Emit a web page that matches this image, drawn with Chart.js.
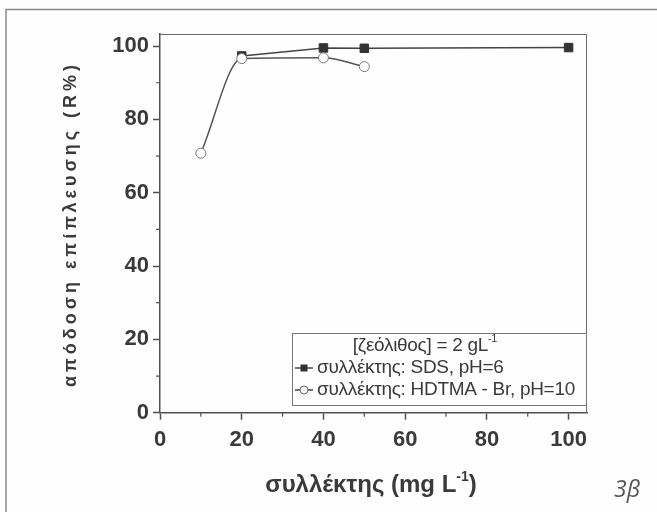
<!DOCTYPE html>
<html>
<head>
<meta charset="utf-8">
<script src="https://cdn.jsdelivr.net/npm/chart.js@4.4.1/dist/chart.umd.min.js"></script>
<style>
  html, body { margin: 0; padding: 0; background: #fefefe; }
  #wrap { width: 657px; height: 512px; position: relative; }
</style>
</head>
<body>
<div id="wrap"><canvas id="c" width="657" height="512"></canvas></div>
<script>
// ---- data ----
const sdsX = [20, 40, 50, 100];
const sdsY = [97.3, 99.5, 99.4, 99.6];
const hdtmaX = [10, 20, 40, 50];
const hdtmaY = [70.8, 96.6, 96.8, 94.4];

const xTicks = [0, 20, 40, 60, 80, 100];
const yTicks = [0, 20, 40, 60, 80, 100];
const xMinor = [10, 30, 50, 70, 90];
const yMinor = [10, 30, 50, 70, 90];

const xTitleParts = ['συλλέκτης (mg L', '-1', ')'];
const yTitle = 'απόδοση επίπλευσης (R%)';
const legendHeaderParts = ['[ζεόλιθος] = 2 gL', '-1', ''];
const sdsLabel = 'συλλέκτης: SDS, pH=6';
const hdtmaLabel = 'συλλέκτης: HDTMA - Br, pH=10';
const panelTag = '3β';

const FONT = '"Liberation Sans", Arial, sans-serif';
const AXIS = '#505050';
const TXT = '#3a3a3a';

const toPts = (xs, ys) => xs.map((x, i) => ({ x: x, y: ys[i] }));

// draws "base^sup tail" centred on cx
function supText(ctx, parts, cx, cy, size, weight, supSize, rise) {
  const [a, s, b] = parts;
  ctx.font = weight + ' ' + size + 'px ' + FONT;
  const wa = ctx.measureText(a).width, wb = ctx.measureText(b).width;
  ctx.font = weight + ' ' + supSize + 'px ' + FONT;
  const ws = ctx.measureText(s).width;
  let x = cx - (wa + ws + wb) / 2;
  ctx.textAlign = 'left';
  ctx.textBaseline = 'middle';
  ctx.font = weight + ' ' + size + 'px ' + FONT;
  ctx.fillText(a, x, cy);
  x += wa;
  ctx.font = weight + ' ' + supSize + 'px ' + FONT;
  ctx.fillText(s, x, cy - rise);
  x += ws;
  ctx.font = weight + ' ' + size + 'px ' + FONT;
  ctx.fillText(b, x, cy);
}

const decor = {
  id: 'decor',
  afterDraw(chart) {
    const ctx = chart.ctx;
    const ca = chart.chartArea;
    const xs = chart.scales.x, ys = chart.scales.y;
    ctx.save();
    // outer frame (left and top visible)
    ctx.strokeStyle = '#8a8a8a';
    ctx.lineWidth = 1.5;
    ctx.beginPath();
    ctx.moveTo(6, 512); ctx.lineTo(6, 9.5); ctx.lineTo(657, 9.5);
    ctx.stroke();
    // plot box top/right
    ctx.strokeStyle = '#6a6a6a';
    ctx.lineWidth = 1;
    ctx.beginPath();
    ctx.moveTo(ca.left, ca.top + 0.5); ctx.lineTo(ca.right - 0.5, ca.top + 0.5); ctx.lineTo(ca.right - 0.5, ca.bottom);
    ctx.stroke();
    // minor ticks
    ctx.strokeStyle = AXIS;
    ctx.lineWidth = 1.2;
    ctx.beginPath();
    xMinor.forEach(v => { const p = xs.getPixelForValue(v); ctx.moveTo(p, ca.bottom); ctx.lineTo(p, ca.bottom + 4); });
    yMinor.forEach(v => { const p = ys.getPixelForValue(v); ctx.moveTo(ca.left - 4, p); ctx.lineTo(ca.left, p); });
    ctx.stroke();

    // axis titles
    ctx.fillStyle = TXT;
    supText(ctx, xTitleParts, 371, 485, 24, 'bold', 14, 8);

    ctx.save();
    ctx.translate(71, 224);
    ctx.rotate(-Math.PI / 2);
    ctx.font = 'bold 18px ' + FONT;
    ctx.letterSpacing = '4px';
    ctx.textAlign = 'center';
    ctx.textBaseline = 'middle';
    ctx.fillText(yTitle, 0, 0);
    ctx.restore();

    // legend box
    const bx = 292, by = 333, bw = 294, bh = 72;
    ctx.fillStyle = '#fefefe';
    ctx.fillRect(bx, by, bw, bh);
    ctx.strokeStyle = '#777';
    ctx.lineWidth = 1;
    ctx.strokeRect(bx + 0.5, by + 0.5, bw, bh);
    ctx.fillStyle = TXT;
    ctx.letterSpacing = '-0.3px';
    supText(ctx, legendHeaderParts, 425, 346, 19, 'normal', 11, 7);
    ctx.font = '19px ' + FONT;
    ctx.textBaseline = 'middle';
    ctx.textAlign = 'left';
    ctx.fillText(sdsLabel, 317, 368);
    ctx.fillText(hdtmaLabel, 317, 390);
    // legend samples
    ctx.strokeStyle = '#444';
    ctx.lineWidth = 1.5;
    ctx.beginPath();
    ctx.moveTo(295, 368); ctx.lineTo(313, 368);
    ctx.moveTo(295, 390); ctx.lineTo(313, 390);
    ctx.stroke();
    ctx.fillStyle = '#333';
    ctx.fillRect(300.5, 364.5, 7, 7);
    ctx.beginPath();
    ctx.arc(304, 390, 4, 0, Math.PI * 2);
    ctx.fillStyle = '#fff';
    ctx.fill();
    ctx.strokeStyle = '#666';
    ctx.lineWidth = 1;
    ctx.stroke();

    // panel tag
    ctx.letterSpacing = '0px';
    ctx.fillStyle = '#555';
    ctx.font = 'italic 23px "Open Sans", ' + FONT;
    ctx.textAlign = 'left';
    ctx.textBaseline = 'alphabetic';
    ctx.fillText(panelTag, 614, 497);
    ctx.restore();
  }
};

new Chart(document.getElementById('c'), {
  type: 'line',
  data: {
    datasets: [
      {
        label: hdtmaLabel,
        data: toPts(hdtmaX, hdtmaY),
        order: 0,
        borderColor: '#555',
        borderWidth: 1.5,
        cubicInterpolationMode: 'monotone',
        pointStyle: 'circle',
        pointRadius: 5,
        pointBackgroundColor: '#ffffff',
        pointBorderColor: '#777',
        pointBorderWidth: 1
      },
      {
        label: sdsLabel,
        data: toPts(sdsX, sdsY),
        order: 1,
        borderColor: '#444',
        borderWidth: 1.5,
        tension: 0,
        pointStyle: 'rect',
        pointRadius: 6,
        pointBackgroundColor: '#333',
        pointBorderColor: '#333',
        pointBorderWidth: 1
      }
    ]
  },
  options: {
    responsive: false,
    animation: false,
    events: [],
    layout: { padding: { left: 0, top: 34, right: 70, bottom: 0 } },
    plugins: { legend: { display: false }, tooltip: { enabled: false } },
    scales: {
      x: {
        type: 'linear',
        min: 0,
        max: 104.5,
        afterFit(s) { s.height = 99.3; },
        afterBuildTicks(s) { s.ticks = xTicks.map(v => ({ value: v })); },
        border: { display: true, color: AXIS, width: 1.5 },
        grid: { display: true, drawOnChartArea: false, drawTicks: true, tickLength: 7, tickColor: AXIS, tickWidth: 1.5 },
        ticks: { color: TXT, font: { family: FONT, size: 22, weight: 'bold' }, padding: 7, maxRotation: 0 }
      },
      y: {
        type: 'linear',
        min: 0,
        max: 103.3,
        afterFit(s) { s.width = 160; },
        afterBuildTicks(s) { s.ticks = yTicks.map(v => ({ value: v })); },
        border: { display: true, color: AXIS, width: 1.5 },
        grid: { display: true, drawOnChartArea: false, drawTicks: true, tickLength: 7, tickColor: AXIS, tickWidth: 1.5 },
        ticks: { color: TXT, font: { family: FONT, size: 22, weight: 'bold' }, padding: 4 }
      }
    }
  },
  plugins: [decor]
});
</script>
</body>
</html>
